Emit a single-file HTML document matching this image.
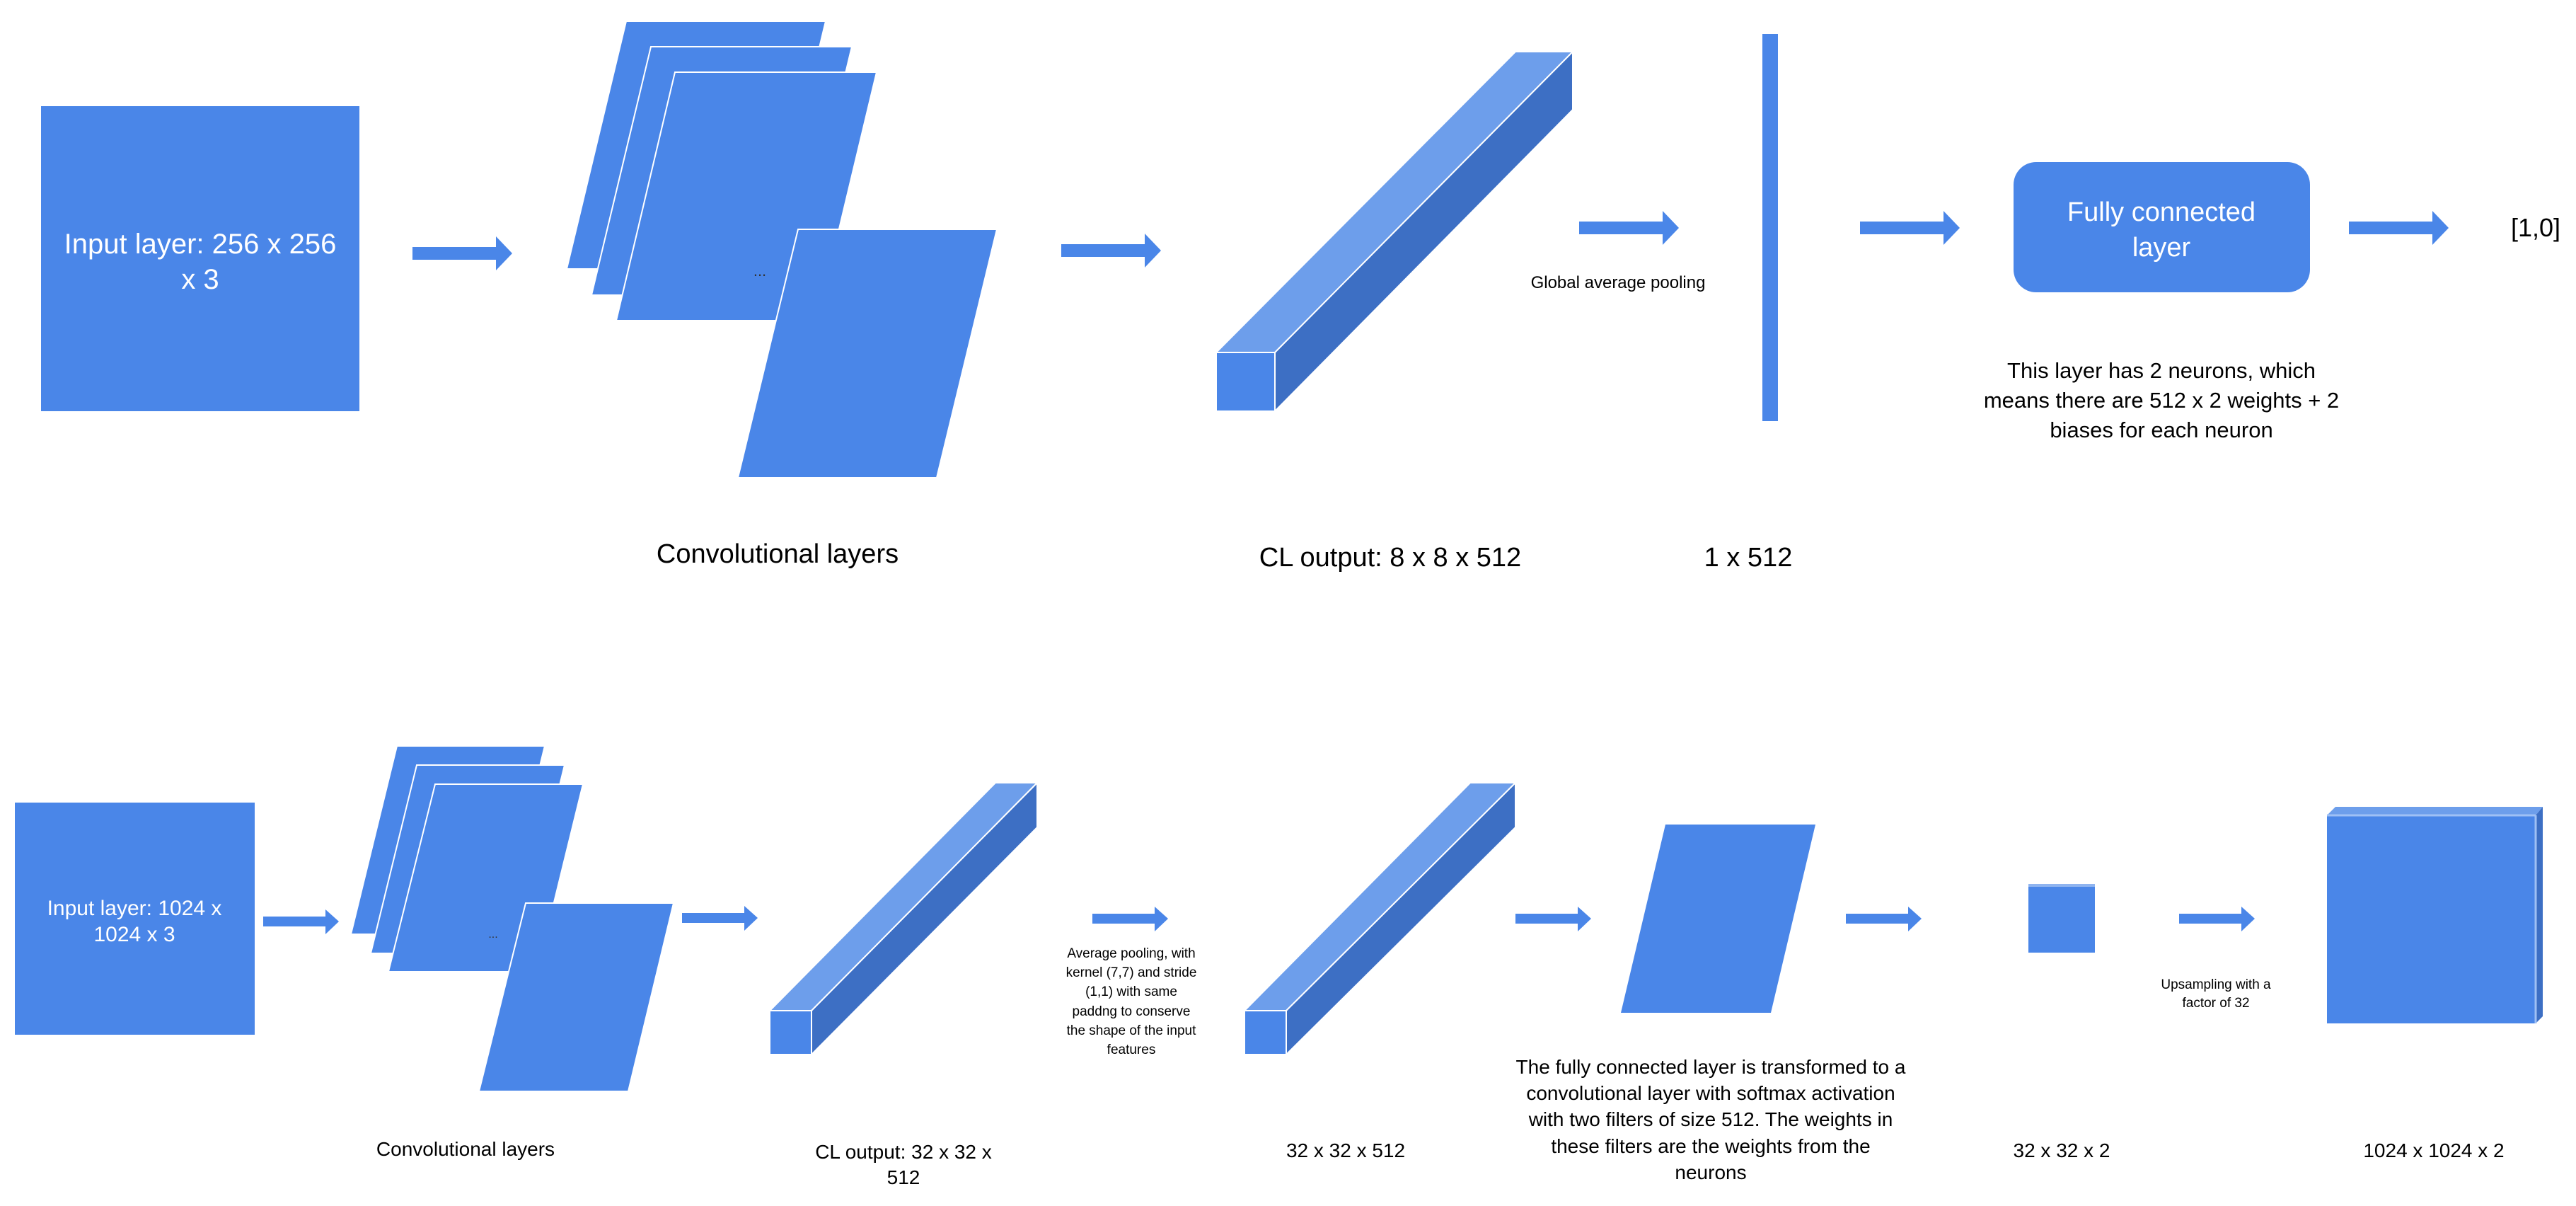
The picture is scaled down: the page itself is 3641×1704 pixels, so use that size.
<!DOCTYPE html>
<html><head><meta charset="utf-8"><style>
html,body{margin:0;padding:0;background:#fff;}
svg{display:block;}
text{font-family:"Liberation Sans",Arial,sans-serif;}
</style></head><body>
<svg width="3641" height="1704" viewBox="0 0 3641 1704" xmlns="http://www.w3.org/2000/svg">
<defs>
<g id="arr"><polygon points="0,15 118,15 118,0 141,24 118,48 118,33 0,33" fill="#4a86e8"/></g>
<g id="arrs"><polygon points="0,10 88,10 88,0 107,17 88,35 88,24 0,24" fill="#4a86e8"/></g>
</defs>
<rect width="3641" height="1704" fill="#fff"/>

<!-- TOP ROW -->
<rect x="58" y="150" width="450" height="431" fill="#4a86e8"/>
<text x="283" y="358" font-size="40" fill="#fff" text-anchor="middle">Input layer: 256 x 256</text>
<text x="283" y="408" font-size="40" fill="#fff" text-anchor="middle">x 3</text>

<use href="#arr" x="583" y="334"/>

<g fill="#4a86e8" stroke="#fff" stroke-width="2">
<polygon points="885,30 1167,30 1083,380 801,380"/>
<polygon points="920,66 1204,66 1120,417 836,417"/>
<polygon points="954,102 1239,102 1155,453 871,453"/>
<polygon points="1128,324 1409,324 1324,675 1043,675"/>
</g>
<text x="1074" y="390" font-size="22" fill="#333" text-anchor="middle">...</text>
<text x="1099" y="795" font-size="38" fill="#000" text-anchor="middle">Convolutional layers</text>

<use href="#arr" x="1500" y="330"/>

<polygon points="1719,498 2142,73 2223,73 1802,498" fill="#6d9eeb" stroke="#fff" stroke-width="2"/>
<polygon points="1802,498 2223,73 2223,155 1802,581" fill="#3d6fc4" stroke="#fff" stroke-width="2"/>
<rect x="1719" y="498" width="83" height="83" fill="#4a86e8" stroke="#fff" stroke-width="2"/>
<text x="1965" y="800" font-size="38" fill="#000" text-anchor="middle">CL output: 8 x 8 x 512</text>

<use href="#arr" x="2232" y="298"/>
<text x="2287" y="407" font-size="24" fill="#000" text-anchor="middle">Global average pooling</text>

<rect x="2491" y="48" width="22" height="547" fill="#4a86e8"/>
<text x="2471" y="800" font-size="38" fill="#000" text-anchor="middle">1 x 512</text>

<use href="#arr" x="2629" y="298"/>
<rect x="2846" y="229" width="419" height="184" rx="32" fill="#4a86e8"/>
<text x="3055" y="312" font-size="38" fill="#fff" text-anchor="middle">Fully connected</text>
<text x="3055" y="362" font-size="38" fill="#fff" text-anchor="middle">layer</text>
<use href="#arr" x="3320" y="298"/>
<text x="3584" y="334" font-size="36" fill="#000" text-anchor="middle">[1,0]</text>

<g font-size="31" fill="#000" text-anchor="middle">
<text x="3055" y="534">This layer has 2 neurons, which</text>
<text x="3055" y="576">means there are 512 x 2 weights + 2</text>
<text x="3055" y="618">biases for each neuron</text>
</g>

<!-- BOTTOM ROW -->
<rect x="21" y="1134" width="339" height="328" fill="#4a86e8"/>
<text x="190" y="1293" font-size="30" fill="#fff" text-anchor="middle">Input layer: 1024 x</text>
<text x="190" y="1330" font-size="30" fill="#fff" text-anchor="middle">1024 x 3</text>

<use href="#arrs" x="372" y="1285"/>

<g fill="#4a86e8" stroke="#fff" stroke-width="2">
<polygon points="561,1054 770,1054 705,1320 496,1320"/>
<polygon points="589,1081 798,1081 733,1347 524,1347"/>
<polygon points="615,1108 824,1108 759,1373 549,1373"/>
<polygon points="743,1276 952,1276 888,1542 677,1542"/>
</g>
<text x="697" y="1325" font-size="16" fill="#333" text-anchor="middle">...</text>
<text x="658" y="1633" font-size="28" fill="#000" text-anchor="middle">Convolutional layers</text>

<use href="#arrs" x="964" y="1280"/>

<polygon points="1088,1428 1407,1106 1466,1106 1147,1428" fill="#6d9eeb" stroke="#fff" stroke-width="2"/>
<polygon points="1147,1428 1466,1106 1466,1169 1147,1490" fill="#3d6fc4" stroke="#fff" stroke-width="2"/>
<rect x="1088" y="1428" width="59" height="62" fill="#4a86e8" stroke="#fff" stroke-width="2"/>
<text x="1277" y="1637" font-size="28" fill="#000" text-anchor="middle">CL output: 32 x 32 x</text>
<text x="1277" y="1673" font-size="28" fill="#000" text-anchor="middle">512</text>

<use href="#arrs" x="1544" y="1281"/>
<g font-size="19" fill="#000" text-anchor="middle">
<text x="1599" y="1353">Average pooling, with</text>
<text x="1599" y="1380">kernel  (7,7) and stride</text>
<text x="1599" y="1407">(1,1) with same</text>
<text x="1599" y="1435">paddng to conserve</text>
<text x="1599" y="1462">the shape of the input</text>
<text x="1599" y="1489">features</text>
</g>

<polygon points="1759,1428 2078,1106 2142,1106 1818,1428" fill="#6d9eeb" stroke="#fff" stroke-width="2"/>
<polygon points="1818,1428 2142,1106 2142,1169 1818,1490" fill="#3d6fc4" stroke="#fff" stroke-width="2"/>
<rect x="1759" y="1428" width="59" height="62" fill="#4a86e8" stroke="#fff" stroke-width="2"/>
<text x="1902" y="1635" font-size="28" fill="#000" text-anchor="middle">32 x 32 x 512</text>

<use href="#arrs" x="2142" y="1281"/>
<polygon points="2354,1165 2566,1165 2503,1431 2291,1431" fill="#4a86e8"/>
<g font-size="28" fill="#000" text-anchor="middle">
<text x="2418" y="1517">The fully connected layer is transformed to a</text>
<text x="2418" y="1554">convolutional layer with softmax activation</text>
<text x="2418" y="1591">with two filters of size 512. The weights in</text>
<text x="2418" y="1629">these filters are the weights from the</text>
<text x="2418" y="1666">neurons</text>
</g>

<use href="#arrs" x="2609" y="1281"/>
<rect x="2867" y="1249" width="94" height="97" fill="#4a86e8"/>
<rect x="2867" y="1249" width="94" height="4" fill="#8fb4f0"/>
<text x="2914" y="1635" font-size="28" fill="#000" text-anchor="middle">32 x 32 x 2</text>

<use href="#arrs" x="3080" y="1281"/>
<g font-size="19" fill="#000" text-anchor="middle">
<text x="3132" y="1397">Upsampling with a</text>
<text x="3132" y="1423">factor of 32</text>
</g>

<polygon points="3289,1152 3301,1140 3594,1140 3584,1152" fill="#6d9eeb"/>
<polygon points="3584,1152 3594,1140 3594,1436 3584,1446" fill="#3d6fc4"/>
<rect x="3289" y="1152" width="295" height="294" fill="#4a86e8"/>
<line x1="3289" y1="1152" x2="3584" y2="1152" stroke="#9fc0f5" stroke-width="3"/>
<line x1="3584" y1="1152" x2="3584" y2="1446" stroke="#9fc0f5" stroke-width="3"/>
<text x="3440" y="1635" font-size="28" fill="#000" text-anchor="middle">1024 x 1024 x 2</text>
</svg>
</body></html>
